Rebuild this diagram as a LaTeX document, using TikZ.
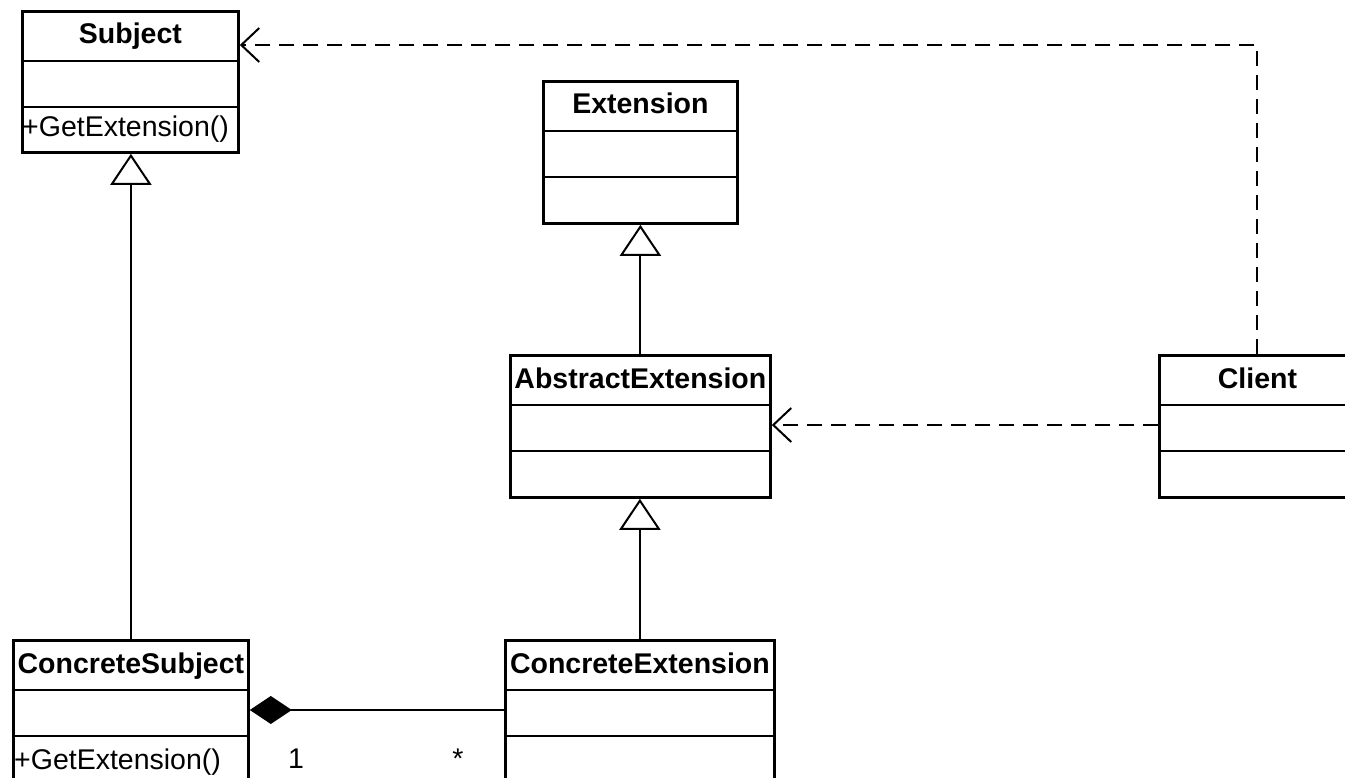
\documentclass[tikz,border=0pt]{standalone}
\usepackage{fontspec}
\setmainfont{Liberation Sans}
\usetikzlibrary{arrows.meta}

% A UML class: name, left x, top y, width, height, title
\newcommand{\umlclass}[6]{%
  \node[classbox, minimum width=#4pt, minimum height=#5pt] (#1) at (#2,#3) {};
  \draw[rule] ([yshift=-51pt]#1.north west) -- ([yshift=-51pt]#1.north east);
  \draw[rule] ([yshift=-97pt]#1.north west) -- ([yshift=-97pt]#1.north east);
  \node[classtitle] (#1-title) at ([yshift=-34pt]#1.north) {#6};
}

\begin{document}
\begin{tikzpicture}[x=1pt, y=-1pt,
  classbox/.style={draw, line width=2.8pt, inner sep=0pt, anchor=north west},
  classtitle/.style={font=\fontsize{28.5}{30}\selectfont\bfseries, anchor=base, inner sep=0pt},
  member/.style={font=\fontsize{28.5}{30}\selectfont, anchor=base west, inner sep=0pt},
  mult/.style={font=\fontsize{28.5}{30}\selectfont, anchor=base, inner sep=0pt},
  rule/.style={line width=2.8pt},
  assoc/.style={line width=2pt},
  inherit/.style={assoc, -{Triangle[open, length=31pt, width=41pt]}},
  depend/.style={assoc, dash pattern=on 15pt off 9pt, -{Straight Barb[length=18pt, width=34pt]}},
  compose/.style={assoc, {Diamond[length=42pt, width=28pt]}-}
]
\useasboundingbox (0,0) rectangle (1345,778);
\clip (0,0) rectangle (1345,778);
\fill[white] (0,0) rectangle (1345,778);

% classes
\umlclass{subject}{21}{10}{216}{141}{Subject}
\umlclass{extension}{542}{80}{194}{142}{Extension}
\umlclass{abstract}{509}{354}{260}{142}{AbstractExtension}
\umlclass{client}{1158}{354}{196}{142}{Client}
\umlclass{csubject}{12}{639}{235}{160}{ConcreteSubject}
\umlclass{cext}{504}{639}{269}{160}{ConcreteExtension}

% operations
\node[member] (subject-op) at (22,137) {+GetExtension()};
\node[member] (csubject-op) at (14,769) {+GetExtension()};

% helper rows for horizontal connectors
\coordinate (toprow) at (0,45);
\coordinate (deprow) at (0,425);
\coordinate (comprow) at (0,710);

% generalizations
\draw[inherit] (csubject.north) -- (csubject.north |- subject.south);
\draw[inherit] (abstract.north) -- (extension.south);
\draw[inherit] (cext.north) -- (cext.north |- abstract.south);

% composition
\draw[compose] (csubject.east |- comprow) -- (cext.west |- comprow);
\node[mult] (mult-one) at (296,768) {1};
\node[mult] (mult-many) at (458,768) {*};

% dependencies
\draw[depend] (client.west |- deprow) -- (abstract.east |- deprow);
\draw[depend] (client.north) |- (subject.east |- toprow);
\end{tikzpicture}
\end{document}
